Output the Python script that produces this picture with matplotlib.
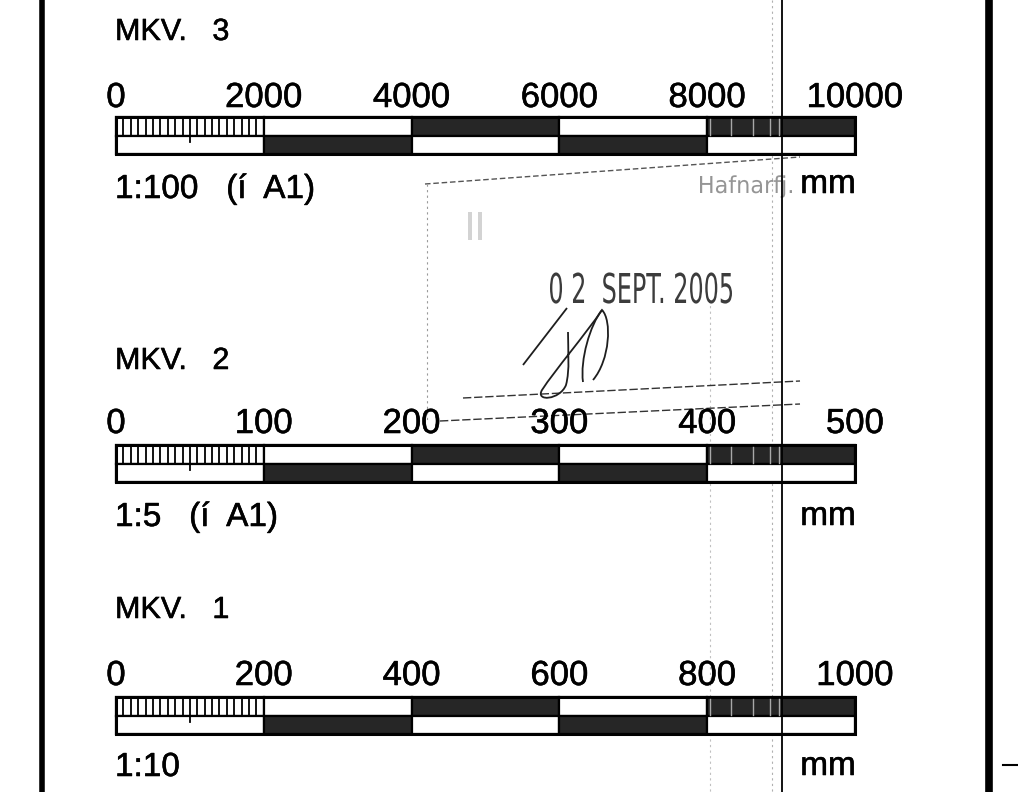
import matplotlib
matplotlib.use("Agg")
import matplotlib.pyplot as plt
from matplotlib.patches import Rectangle, PathPatch
from matplotlib.path import Path
from matplotlib.textpath import TextPath
from matplotlib.font_manager import FontProperties
import matplotlib.transforms as mtrans
import matplotlib.patheffects as pe

# ---------------- data ----------------
titles = ["MKV.   3", "MKV.   2", "MKV.   1"]
captions = ["1:100   (í  A1)", "1:5   (í  A1)", "1:10"]
unit = "mm"
ticks_mkv3 = [0, 2000, 4000, 6000, 8000, 10000]
ticks_mkv2 = [0, 100, 200, 300, 400, 500]
ticks_mkv1 = [0, 200, 400, 600, 800, 1000]
tick_sets = [ticks_mkv3, ticks_mkv2, ticks_mkv1]
top_row = ["ticks", "white", "black", "white", "black"]
bottom_row = ["white", "black", "white", "black", "white"]
n_sub = 20
stamp_date = "0 2  SEPT. 2005"
stamp_place = "Hafnarfj."

# ---------------- layout (pixel space) ----------------
W, H = 1018, 792
X0, X1 = 116, 855
title_base = [40, 369, 618]
num_base = [107, 433, 685]
bar_top = [117, 445, 697]
bar_h = 37
cap_base = [198, 526, 776]
mm_base = [193, 525, 775]
DARK = "#262626"
FONT = "Liberation Sans"
THICK = [pe.withStroke(linewidth=0.4, foreground="black")]

fig = plt.figure(figsize=(W / 100, H / 100), dpi=100)
ax = fig.add_axes([0, 0, 1, 1])
ax.set_xlim(0, W)
ax.set_ylim(H, 0)
ax.axis("off")

# scan lines (drawn first, under everything)
ax.plot([772, 772], [0, H], color="#b0b0b0", lw=0.8, ls=(0, (2, 3)), zorder=1)
ax.plot([710, 710], [300, H], color="#c0c0c0", lw=0.8, ls=(0, (2, 3)), zorder=1)

for k in range(3):
    vals = tick_sets[k]
    vmax = vals[-1]
    xs = [X0 + v / vmax * (X1 - X0) for v in vals]
    # title
    ax.text(X0 - 1, title_base[k], titles[k], fontsize=22, family=FONT,
            ha="left", va="baseline", color="black", zorder=5, path_effects=THICK)
    # numbers
    for v, x in zip(vals, xs):
        ax.text(x, num_base[k], str(v), fontsize=25, family=FONT,
                ha="center", va="baseline", color="black", zorder=5, path_effects=THICK)
    # bar cells
    t = bar_top[k]
    hh = bar_h / 2
    for i in range(len(xs) - 1):
        xa, xb = xs[i], xs[i + 1]
        for row, y in ((top_row, t), (bottom_row, t + hh)):
            kind = row[i]
            fc = DARK if kind == "black" else "white"
            ax.add_patch(Rectangle((xa, y), xb - xa, hh, facecolor=fc,
                                   edgecolor="black", lw=1.6, zorder=3))
            if kind == "ticks":
                step = (xb - xa) / n_sub
                for j in range(1, n_sub):
                    xt = xa + j * step
                    ybot = y + hh + (6 if j == n_sub // 2 else 0)
                    ax.plot([xt, xt], [y, ybot], color="black", lw=1.3, zorder=4)
    # outer frame
    ax.add_patch(Rectangle((X0, t), X1 - X0, bar_h, facecolor="none",
                           edgecolor="black", lw=2.2, zorder=4))
    # scan streaks in last black segment
    for xs_ in (710, 731, 753, 770, 779):
        ax.plot([xs_, xs_], [t + 1.5, t + hh - 1], color="#a8a8a8", lw=1.0, zorder=4)
    # caption and unit
    ax.text(X0 - 1, cap_base[k], captions[k], fontsize=24, family=FONT,
            ha="left", va="baseline", color="black", zorder=5, path_effects=THICK)
    ax.text(X1 + 1, mm_base[k], unit, fontsize=24, family=FONT,
            ha="right", va="baseline", color="black", zorder=5, path_effects=THICK)

# borders
ax.plot([42.5, 42.5], [0, H], color="black", lw=4.0, solid_capstyle="butt", zorder=6)
ax.plot([989, 989], [0, H], color="black", lw=5.5, solid_capstyle="butt", zorder=6)
ax.plot([1003, 1018], [765, 765], color="black", lw=1.5, zorder=6)
# fold line
ax.plot([782, 782], [0, H], color="black", lw=1.3, zorder=6)

# ---------------- stamp ----------------
SG = "#3c3c3c"
ax.plot([425, 800], [184, 157], color="#555555", lw=1.0, ls=(0, (4, 2)), zorder=2)
ax.plot([463, 800], [398, 381], color="#333333", lw=1.0, ls=(0, (6, 2)), zorder=2)
ax.plot([440, 800], [421, 404], color="#333333", lw=1.0, ls=(0, (6, 2)), zorder=2)
ax.plot([427, 427], [184, 421], color="#9a9a9a", lw=0.8, ls=(0, (2, 3)), zorder=2)


def narrow_text(s, x0, base, width, cap, color, family="DejaVu Sans", alpha=1.0):
    tp = TextPath((0, 0), s, size=40, prop=FontProperties(family=family))
    ext = tp.get_extents()
    sx = width / ext.width
    sy = cap / (40 * 0.729)
    tr = mtrans.Affine2D().translate(-ext.x0, 0).scale(sx, -sy).translate(x0, base) + ax.transData
    ax.add_patch(PathPatch(tp, transform=tr, facecolor=color, edgecolor="none",
                           alpha=alpha, zorder=2))


narrow_text(stamp_date, 550, 303, 182, 30, SG)
narrow_text(stamp_place, 700, 193, 92, 17, "#8a8a8a", alpha=0.9)
narrow_text("II", 468, 240, 14, 28, "#c8c8c8", alpha=0.8)

# signature strokes
sig = [
    [(Path.MOVETO, (567, 308)), (Path.LINETO, (523, 365))],
    [(Path.MOVETO, (602, 310)),
     (Path.CURVE4, (585, 335)), (Path.CURVE4, (555, 370)), (Path.CURVE4, (542, 390)),
     (Path.CURVE4, (535, 402)), (Path.CURVE4, (560, 400)), (Path.CURVE4, (566, 385)),
     (Path.CURVE4, (570, 370)), (Path.CURVE4, (568, 350)), (Path.CURVE4, (568, 332))],
    [(Path.MOVETO, (583, 382)),
     (Path.CURVE4, (580, 360)), (Path.CURVE4, (590, 325)), (Path.CURVE4, (602, 310)),
     (Path.CURVE4, (612, 320)), (Path.CURVE4, (610, 360)), (Path.CURVE4, (593, 380))],
]
for stroke in sig:
    codes = [c for c, _ in stroke]
    verts = [p for _, p in stroke]
    ax.add_patch(PathPatch(Path(verts, codes), facecolor="none", edgecolor="#1e1e1e",
                           lw=1.3, zorder=2))

fig.savefig("out.png", dpi=100)
